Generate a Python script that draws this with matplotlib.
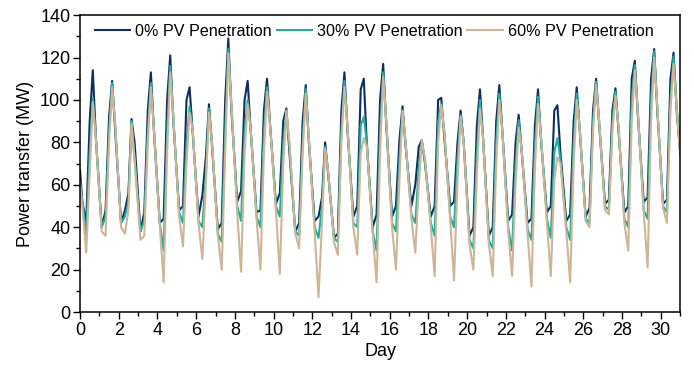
import matplotlib
matplotlib.use("Agg")
import matplotlib.pyplot as plt
from matplotlib.ticker import MultipleLocator
import numpy as np

plt.rcParams['font.family'] = ['Liberation Sans', 'DejaVu Sans']

# fraction of the day at which each read value sits
day_points = [0.12, 0.32, 0.5, 0.66, 0.82]   # night, midday, rise, evening peak, after peak
days = np.arange(31)

# values: (night, midday, rise, peak, after peak) per day
pv0 = [(52, 42, 90, 114, 82), (40, 48, 92, 109, 85), (42, 48, 56, 91, 80),
       (38, 47, 95, 113, 85), (42, 44, 100, 121, 90), (48, 50, 100, 106, 85),
       (45, 55, 73, 98, 78), (39, 42, 100, 129, 95), (52, 57, 100, 109, 85),
       (47, 48, 95, 110, 88), (51, 56, 90, 96, 75), (38, 42, 90, 107, 80),
       (43, 45, 54, 80, 65), (35, 37, 95, 113, 85), (45, 50, 105, 110, 78),
       (40, 46, 100, 117, 88), (45, 50, 81, 97, 78), (50, 60, 78, 81, 70),
       (45, 50, 100, 101, 82), (50, 52, 80, 95, 80), (36, 40, 88, 105, 82),
       (36, 40, 90, 107, 85), (43, 46, 80, 93, 75), (42, 44, 88, 105, 80),
       (47, 50, 95, 97.5, 75), (43, 46, 90, 106, 85), (45, 49, 95, 110, 88),
       (51, 53, 95, 105.5, 85), (47, 50, 110, 118.5, 92), (52, 54, 110, 124, 95),
       (51, 53, 110, 122.3, 95)]
pv30 = [(52, 36, 75, 101, 82), (40, 45, 85, 108, 88), (42, 45, 52, 90, 72),
        (38, 43, 85, 108, 86), (42, 29, 85, 116, 92), (47, 42, 80, 97, 86),
        (43, 40, 65, 96, 80), (37, 33, 85, 124, 98), (50, 43, 85, 100, 86),
        (45, 40, 85, 106, 88), (50, 45, 80, 95, 78), (38, 36, 80, 105, 82),
        (40, 35, 50, 78, 66), (35, 33, 85, 109, 87), (42, 40, 88, 92, 80),
        (38, 29, 85, 113, 90), (42, 38, 72, 95, 80), (46, 42, 68, 80, 72),
        (42, 36, 90, 98, 85), (45, 40, 72, 93, 80), (34, 30, 75, 100, 82),
        (34, 30, 80, 103, 85), (40, 29, 70, 90.5, 76), (39, 34, 78, 101.5, 82),
        (44, 35, 75, 82, 72), (40, 34, 80, 103, 86), (44, 42, 90, 108.6, 90),
        (50, 48, 90, 104, 87), (44, 40, 100, 116.5, 94), (48, 44, 100, 122.8, 97),
        (50, 47, 100, 120.4, 97)]
pv60 = [(50, 28, 65, 99, 82), (38, 36, 80, 106, 88), (40, 37, 48, 89, 72),
        (34, 36, 80, 106, 86), (41, 14, 75, 113, 92), (45, 31, 70, 94, 86),
        (42, 25, 60, 94, 80), (36, 20, 75, 122, 98), (47, 19, 75, 98, 86),
        (44, 20, 75, 104, 88), (48, 18, 70, 95, 80), (37, 30, 75, 103, 82),
        (38, 7, 42, 77, 66), (33, 27, 80, 106, 87), (40, 27, 75, 82, 78),
        (37, 14, 75, 111, 90), (40, 20, 62, 95, 80), (44, 28, 60, 81, 72),
        (40, 17, 80, 97.6, 85), (44, 15, 62, 92, 80), (32, 20, 65, 96, 82),
        (32, 17, 70, 100, 85), (38, 17, 60, 87, 76), (37, 12, 68, 98, 82),
        (42, 17, 62, 73, 70), (38, 14, 70, 100, 86), (43, 40, 85, 107, 90),
        (48, 46, 85, 102, 87), (42, 29, 90, 114, 94), (47, 21, 90, 120, 97),
        (49, 42, 95, 117, 97)]
start_vals = [67, 62, 60]
end_vals = [76, 75, 74]

labels = ['0% PV Penetration', '30% PV Penetration', '60% PV Penetration']
colors = ['#0d2f5e', '#1fae9e', '#cdb597']


def series(rows, first, last):
    t = [0.0] + [d + h for d in days for h in day_points] + [31.0]
    v = [first] + [x for row in rows for x in row] + [last]
    return np.array(t), np.array(v)


fig = plt.figure(figsize=(6.94, 3.68), dpi=100)
ax = fig.add_axes([0.1153, 0.152, 0.8647, 0.807])

for data, s, e, lab, c in zip([pv0, pv30, pv60], start_vals, end_vals, labels, colors):
    t, v = series(data, s, e)
    ax.plot(t, v, color=c, lw=1.5, label=lab)

ax.set_xlim(0, 31)
ax.set_ylim(0, 140)
ax.xaxis.set_major_locator(MultipleLocator(2))
ax.xaxis.set_minor_locator(MultipleLocator(1))
ax.yaxis.set_major_locator(MultipleLocator(20))
ax.yaxis.set_minor_locator(MultipleLocator(10))
ax.tick_params(which='major', direction='out', length=5, width=1, labelsize=13, pad=2)
ax.tick_params(which='minor', direction='out', length=3, width=1)
for sp in ax.spines.values():
    sp.set_linewidth(1.1)

ax.set_xlabel('Day', fontsize=13, labelpad=3)
ax.set_ylabel('Power transfer (MW)', fontsize=13, labelpad=4)

ax.legend(loc='upper left', bbox_to_anchor=(0.025, 0.97), ncol=3, frameon=False,
          fontsize=11.6, handlelength=2.2, handletextpad=0.3, columnspacing=0.3,
          borderpad=0, borderaxespad=0)

fig.savefig('out.png', dpi=100)
